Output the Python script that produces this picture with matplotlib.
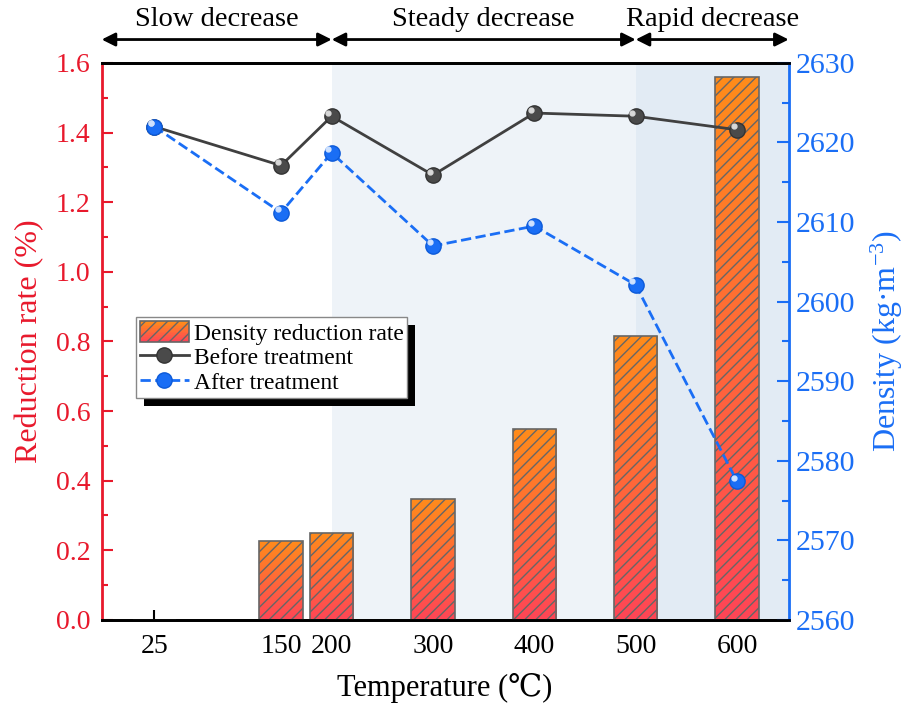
import numpy as np
import matplotlib.pyplot as plt
from matplotlib.colors import LinearSegmentedColormap
from matplotlib.ticker import MultipleLocator
from matplotlib.transforms import offset_copy
from matplotlib.patches import Rectangle
from matplotlib.legend_handler import HandlerBase

plt.rcParams['font.family'] = ['Liberation Serif', 'DejaVu Serif']
plt.rcParams['mathtext.fontset'] = 'custom'
plt.rcParams['mathtext.rm'] = 'Liberation Serif'
plt.rcParams['mathtext.it'] = 'Liberation Serif:italic'
plt.rcParams['hatch.color'] = '#555555'
plt.rcParams['hatch.linewidth'] = 1.0

# data
temps = [25, 150, 200, 300, 400, 500, 600]
reduction = [0.0, 0.228, 0.25, 0.348, 0.548, 0.815, 1.56]
before = [2622.0, 2617.1, 2623.3, 2615.9, 2623.7, 2623.3, 2621.6]
after = [2622.0, 2611.2, 2618.7, 2607.0, 2609.5, 2602.1, 2577.4]
stages = ['Slow decrease', 'Steady decrease', 'Rapid decrease']
stage_bounds = [-27, 200, 500, 651]

red = '#e8192c'
blue = '#1a6ef5'
bot_col = '#ff4556'
top_col = '#ff8c1a'

fig = plt.figure(figsize=(9.16, 7.15), dpi=100)
ax = fig.add_axes([0.111, 0.133, 0.750, 0.779])
ax2 = ax.twinx()

# shaded stages
ax.axvspan(200, 500, color='#eef3f8', zorder=0, lw=0)
ax.axvspan(500, stage_bounds[-1], color='#e2ebf4', zorder=0, lw=0)

# gradient bars
cmap = LinearSegmentedColormap.from_list('og', [bot_col, top_col])
grad = np.linspace(0, 1, 256).reshape(-1, 1)
bars = ax.bar(temps, reduction, width=43, facecolor='none', edgecolor='#666666',
              hatch='///', lw=1.2, zorder=3, label='Density reduction rate')
for b in bars:
    h = b.get_height()
    if h <= 0:
        continue
    x0 = b.get_x()
    im = ax.imshow(grad, cmap=cmap, aspect='auto', origin='lower',
                   extent=[x0, x0 + b.get_width(), 0, h], zorder=2)
    im.set_clip_path(b)
ax.set_xlim(stage_bounds[0], stage_bounds[-1])
ax.set_ylim(0, 1.6)
ax2.set_ylim(2560, 2630)

# lines
ax2.plot(temps, before, '-', color='#404040', lw=2, marker='o', ms=11,
         mfc='#4a4a4a', mec='#333333', zorder=5, label='Before treatment')
ax2.plot(temps, after, '--', color=blue, lw=2, marker='o', ms=11,
         mfc=blue, mec='#0d5ad8', zorder=5, label='After treatment')
hl = offset_copy(ax2.transData, fig=fig, x=-2.5, y=2.5, units='points')
ax2.plot(temps, before, 'o', ms=3.5, color='#d8d8d8', transform=hl, zorder=6)
ax2.plot(temps, after, 'o', ms=3.5, color='#cfe2ff', transform=hl, zorder=6)

# axes styling
ax.set_xticks(temps)
ax.tick_params(axis='x', direction='in', length=7, width=1.5, labelsize=20, top=False, pad=10)
ax.tick_params(axis='y', which='both', direction='in', colors=red, labelsize=20, width=1.5, pad=8)
ax.tick_params(axis='y', which='major', length=8)
ax.tick_params(axis='y', which='minor', length=4)
ax.yaxis.set_major_locator(MultipleLocator(0.2))
ax.yaxis.set_minor_locator(MultipleLocator(0.1))
ax.yaxis.set_major_formatter(plt.FormatStrFormatter('%.1f'))

ax2.tick_params(axis='y', which='both', direction='in', colors=blue, labelsize=21.5, width=1.5, pad=5)
ax2.tick_params(axis='y', which='major', length=9)
ax2.tick_params(axis='y', which='minor', length=5)
ax2.yaxis.set_major_locator(MultipleLocator(10))
ax2.yaxis.set_minor_locator(MultipleLocator(5))

for a in (ax, ax2):
    for s in a.spines.values():
        s.set_linewidth(2)
ax.spines['left'].set_color(red)
ax2.spines['left'].set_visible(False)
ax2.spines['right'].set_color(blue)
ax.spines['right'].set_visible(False)

ax.set_xlabel('Temperature (\u2103)', fontsize=22, labelpad=10)
ax.set_ylabel('Reduction rate (%)', fontsize=23, color=red, labelpad=8)
ax2.set_ylabel('Density (kg\u00b7m$^{-3}$)', fontsize=23, color=blue, labelpad=10)

# stage arrows
for i, name in enumerate(stages):
    x0, x1 = stage_bounds[i], stage_bounds[i + 1]
    ax.annotate('', xy=(x0, 1.042), xytext=(x1, 1.042),
                xycoords=('data', 'axes fraction'), textcoords=('data', 'axes fraction'),
                arrowprops=dict(arrowstyle='<|-|>', color='black', lw=2,
                                mutation_scale=20, shrinkA=0, shrinkB=0),
                annotation_clip=False)
    ax.text((x0 + x1) / 2, 1.055, name, transform=ax.get_xaxis_transform(),
            ha='center', va='bottom', fontsize=20.5)


# legend handle for the gradient bar
class GradHandler(HandlerBase):
    def create_artists(self, legend, orig, xd, yd, width, height, fontsize, trans):
        n = 12
        cm = LinearSegmentedColormap.from_list('h', [bot_col, top_col])
        arts = []
        for k in range(n):
            arts.append(Rectangle((-xd, -yd + height * k / n), width, height / n + 0.3,
                                  facecolor=cm(k / (n - 1)), lw=0, transform=trans))
        arts.append(Rectangle((-xd, -yd), width, height, facecolor='none', edgecolor='#666666',
                              hatch='///', lw=1.2, transform=trans))
        return arts


h1, l1 = ax.get_legend_handles_labels()
h2, l2 = ax2.get_legend_handles_labels()
leg = ax2.legend(h1 + h2, l1 + l2, loc='upper left', bbox_to_anchor=(0.05, 0.543),
                 fontsize=17, frameon=True, fancybox=False, framealpha=1,
                 edgecolor='#888888', handlelength=2.1, handleheight=1.0, handletextpad=0.2,
                 borderpad=0.15, labelspacing=0.05, borderaxespad=0,
                 handler_map={type(h1[0]): GradHandler()})
leg.get_frame().set_linewidth(1)
leg.set_zorder(10)

# thick black drop shadow behind legend
fig.canvas.draw()
bb = leg.get_window_extent()
shadow = Rectangle((bb.x0 + 8, bb.y0 - 8), bb.width, bb.height, facecolor='black',
                   lw=0, transform=None, zorder=9)
ax2.add_artist(shadow)

fig.savefig('out.png', dpi=100)
